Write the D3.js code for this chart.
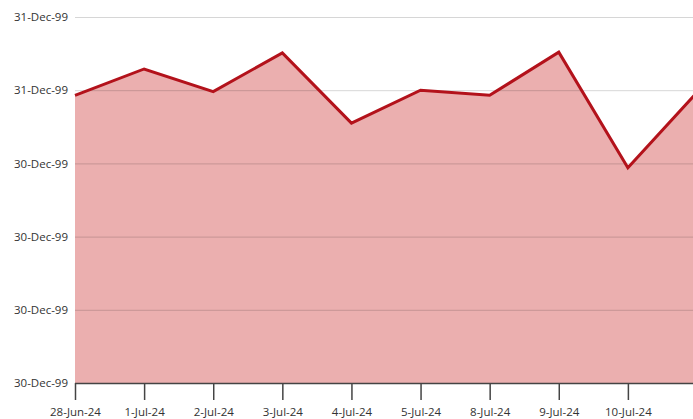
<!DOCTYPE html>
<html>
<head>
<meta charset="utf-8">
<script src="https://cdn.jsdelivr.net/npm/d3@7"></script>
<style>
  html, body { margin: 0; padding: 0; background: #fff; overflow: hidden; }
  svg { display: block; }
  text { font-family: "Open Sans", "Noto Sans", sans-serif; fill: #333; }
</style>
</head>
<body>
<div id="chart"></div>
<script>
const categories = ["28-Jun-24","1-Jul-24","2-Jul-24","3-Jul-24","4-Jul-24","5-Jul-24","8-Jul-24","9-Jul-24","10-Jul-24","11-Jul-24"];
const values = [3.93, 4.29, 3.98, 4.51, 3.55, 4.00, 3.93, 4.52, 2.94, 3.97];
const yTickValues = [0, 1, 2, 3, 4, 5];
const yTickLabels = ["30-Dec-99","30-Dec-99","30-Dec-99","30-Dec-99","31-Dec-99","31-Dec-99"];
// the last category's label lies beyond the visible window in the reference
const xTickCategories = categories.slice(0, -1);

const W = 693, H = 419;
const svg = d3.select("#chart").append("svg").attr("width", W).attr("height", H);

const x = d3.scalePoint().domain(categories).range([75, 697]);
const y = d3.scaleLinear().domain([0, 5]).range([383, 17]);

const data = categories.map((c, i) => ({ c, v: values[i] }));

// area
const area = d3.area().x(d => x(d.c)).y0(y(0)).y1(d => y(d.v));
svg.append("path").datum(data).attr("d", area).attr("fill", "#ebafaf");

// gridlines on top
svg.append("g").selectAll("line").data(yTickValues.slice(1)).join("line")
  .attr("x1", 75).attr("x2", W)
  .attr("y1", d => y(d) + 0.5).attr("y2", d => y(d) + 0.5)
  .attr("stroke", "rgba(0,0,0,0.16)").attr("stroke-width", 1);

// line
const line = d3.line().x(d => x(d.c)).y(d => y(d.v));
svg.append("path").datum(data).attr("d", line)
  .attr("fill", "none").attr("stroke", "#b3121b").attr("stroke-width", 3)
  .attr("stroke-linejoin", "miter");

// y axis labels
const yAxis = d3.axisLeft(y).tickValues(yTickValues)
  .tickFormat((d, i) => yTickLabels[i]).tickSize(0).tickPadding(7);
const gy = svg.append("g").attr("transform", "translate(75,0)").call(yAxis);
gy.select(".domain").remove();
gy.selectAll("text").style("font-size", "11.5px").attr("fill", "#333")
  .style("font-family", "'Open Sans', sans-serif");

// x axis
const xAxis = d3.axisBottom(x).tickValues(xTickCategories).tickSize(17).tickPadding(8);
const gx = svg.append("g").attr("transform", "translate(0,383)").call(xAxis);
gx.select(".domain").attr("d", `M75,0.5H${W}`).attr("stroke", "#444").attr("stroke-width", 1.5);
gx.selectAll(".tick line").attr("stroke", "#444").attr("stroke-width", 1.5);
gx.selectAll("text").style("font-size", "11.5px").attr("fill", "#333")
  .style("font-family", "'Open Sans', sans-serif");
</script>
</body>
</html>
